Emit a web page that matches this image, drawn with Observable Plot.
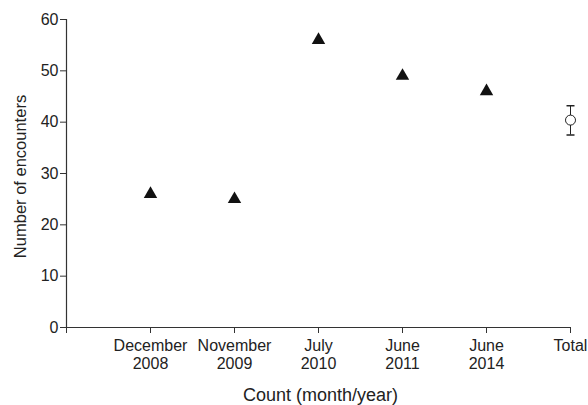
<!DOCTYPE html>
<html>
<head>
<meta charset="utf-8">
<script src="https://cdn.jsdelivr.net/npm/d3@7"></script>
<script src="https://cdn.jsdelivr.net/npm/@observablehq/plot@0.6"></script>
<style>
  html, body { margin: 0; padding: 0; background: #fff; }
</style>
</head>
<body>
<div id="chart"></div>
<script>
// Tick labels for the x positions (position 0 is the empty axis start)
const tickLabels = ["", "December\n2008", "November\n2009", "July\n2010", "June\n2011", "June\n2014", "Total"];
// Counts per survey
const countLabels = ["December\n2008", "November\n2009", "July\n2010", "June\n2011", "June\n2014"];
const countValues = [26, 25, 56, 49, 46];
// Total (mean with error bar)
const totalLabel = "Total";
const totalMean = 40.4;
const totalLow = 37.5;
const totalHigh = 43.2;
const yTicks = [0, 10, 20, 30, 40, 50, 60];
const xTitle = "Count (month/year)";
const yTitle = "Number of encounters";

const counts = countLabels.map((c, i) => ({pos: tickLabels.indexOf(c), value: countValues[i]}));
const total = [{pos: tickLabels.indexOf(totalLabel), mean: totalMean, low: totalLow, high: totalHigh}];

const capSymbol = {
  draw(context) {
    context.moveTo(-4, 0);
    context.lineTo(4, 0);
  }
};

const chart = Plot.plot({
  width: 588,
  height: 405,
  marginLeft: 66,
  marginRight: 18,
  marginTop: 19,
  marginBottom: 78,
  style: {fontFamily: "'Liberation Sans', Arial, sans-serif", fontSize: "16px", color: "#222", background: "#fff"},
  x: {domain: [0, tickLabels.length - 1]},
  y: {domain: [0, 60]},
  marks: [
    Plot.axisY({ticks: yTicks, tickSize: 6, tickPadding: 2, stroke: "#333", label: null}),
    Plot.axisX({ticks: d3.range(tickLabels.length), tickFormat: i => tickLabels[i], tickSize: 6, tickPadding: 5,
      lineHeight: 1.13, stroke: "#333", label: null}),
    Plot.text([xTitle], {text: d => d, frameAnchor: "bottom", dx: 2, dy: 68, lineAnchor: "middle", textAnchor: "middle", fontSize: 18, fill: "#222"}),
    Plot.text([yTitle], {text: d => d, frameAnchor: "left", dx: -46, dy: 3, rotate: -90, lineAnchor: "middle", textAnchor: "middle", fontSize: 16.5, fill: "#222"}),
    Plot.ruleX([0], {stroke: "#333", strokeWidth: 1.2}),
    Plot.ruleY([0], {stroke: "#333", strokeWidth: 1.2}),
    Plot.dot(counts, {x: "pos", y: "value", symbol: "triangle", fill: "#111", r: 5}),
    Plot.ruleX(total, {x: "pos", y1: "low", y2: "high", stroke: "#222"}),
    Plot.dot(total, {x: "pos", y: "low", symbol: capSymbol, stroke: "#222", fill: "none"}),
    Plot.dot(total, {x: "pos", y: "high", symbol: capSymbol, stroke: "#222", fill: "none"}),
    Plot.dot(total, {x: "pos", y: "mean", r: 5, fill: "white", stroke: "#222", strokeWidth: 1})
  ]
});
document.getElementById("chart").appendChild(chart);
</script>
</body>
</html>
